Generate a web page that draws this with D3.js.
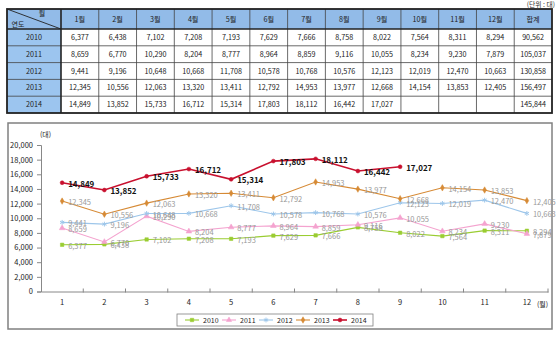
<!DOCTYPE html>
<html>
<head>
<meta charset="utf-8">
<script src="https://cdn.jsdelivr.net/npm/d3@7"></script>
<style>
  body { margin: 0; background: #fff; }
  svg text { font-family: "Noto Sans CJK KR", "Noto Sans", sans-serif; }
</style>
</head>
<body>
<div id="chart"></div>
<script>
// data
var months = ["1월", "2월", "3월", "4월", "5월", "6월", "7월", "8월", "9월", "10월", "11월", "12월"];
var monthTicks = [1, 2, 3, 4, 5, 6, 7, 8, 9, 10, 11, 12];
var years = ["2010", "2011", "2012", "2013", "2014"];
var s2010 = [6377, 6438, 7102, 7208, 7193, 7629, 7666, 8758, 8022, 7564, 8311, 8294];
var s2011 = [8659, 6770, 10290, 8204, 8777, 8964, 8859, 9116, 10055, 8234, 9230, 7879];
var s2012 = [9441, 9196, 10648, 10668, 11708, 10578, 10768, 10576, 12123, 12019, 12470, 10663];
var s2013 = [12345, 10556, 12063, 13320, 13411, 12792, 14953, 13977, 12668, 14154, 13853, 12405];
var s2014 = [14849, 13852, 15733, 16712, 15314, 17803, 18112, 16442, 17027];
var totals = [90562, 105037, 130858, 156497, 145844];
var yTicks = [0, 2000, 4000, 6000, 8000, 10000, 12000, 14000, 16000, 18000, 20000];

var seriesValues = [s2010, s2011, s2012, s2013, s2014];
var colors = ["#9ACD32", "#F4A3CF", "#9DC6EA", "#D68A35", "#C8102E"];
var symbols = [d3.symbolSquare, d3.symbolTriangle, d3.symbolAsterisk, d3.symbolDiamond, d3.symbolCircle];

var fmt = d3.format(",");

var width = 560, height = 339;
var svg = d3.select("#chart").append("svg")
  .attr("width", width)
  .attr("height", height);

// ---------- table ----------
var tLeft = 7, tTop = 9, firstW = 54, colW = (552 - 61) / 13, headH = 20, rowH = 16.8;
var cols = months.concat(["합계"]);
var table = svg.append("g");

// header cells
table.append("rect")
  .attr("x", tLeft).attr("y", tTop)
  .attr("width", 552 - tLeft).attr("height", headH)
  .attr("fill", "#92BBE8");
// year cells
table.append("rect")
  .attr("x", tLeft).attr("y", tTop + headH)
  .attr("width", firstW).attr("height", rowH * years.length)
  .attr("fill", "#9CC5EF");

// inner grid lines
var colX = function (i) { return tLeft + firstW + i * colW; };
for (var i = 1; i < cols.length; i++) {
  table.append("line")
    .attr("x1", colX(i)).attr("x2", colX(i))
    .attr("y1", tTop).attr("y2", tTop + headH + rowH * years.length)
    .attr("stroke", "#444").attr("stroke-width", 0.8);
}
for (var r = 1; r < years.length; r++) {
  table.append("line")
    .attr("x1", tLeft).attr("x2", 552)
    .attr("y1", tTop + headH + r * rowH).attr("y2", tTop + headH + r * rowH)
    .attr("stroke", "#444").attr("stroke-width", 0.8);
}
// thicker separators
table.append("line")
  .attr("x1", tLeft).attr("x2", 552)
  .attr("y1", tTop + headH).attr("y2", tTop + headH)
  .attr("stroke", "#222").attr("stroke-width", 1.6);
table.append("line")
  .attr("x1", colX(0)).attr("x2", colX(0))
  .attr("y1", tTop).attr("y2", tTop + headH + rowH * years.length)
  .attr("stroke", "#222").attr("stroke-width", 1.6);
table.append("rect")
  .attr("x", tLeft).attr("y", tTop)
  .attr("width", 552 - tLeft).attr("height", headH + rowH * years.length)
  .attr("fill", "none").attr("stroke", "#222").attr("stroke-width", 1.8);
// diagonal corner
table.append("line")
  .attr("x1", tLeft).attr("y1", tTop)
  .attr("x2", colX(0)).attr("y2", tTop + headH)
  .attr("stroke", "#222").attr("stroke-width", 0.9);
table.append("text").attr("x", 42).attr("y", 16)
  .attr("font-size", 7).attr("text-anchor", "middle").attr("fill", "#222").text("월");
table.append("text").attr("x", 18).attr("y", 27)
  .attr("font-size", 7).attr("text-anchor", "middle").attr("fill", "#222").text("연도");

// header labels
cols.forEach(function (c, i) {
  table.append("text")
    .attr("x", colX(i) + colW / 2).attr("y", tTop + headH / 2 + 2.5)
    .attr("font-size", 7.2).attr("text-anchor", "middle").attr("fill", "#222")
    .text(c);
});
// rows
years.forEach(function (y, r) {
  var cy = tTop + headH + r * rowH + rowH / 2 + 2.5;
  table.append("text")
    .attr("x", tLeft + firstW / 2).attr("y", cy)
    .attr("font-size", 7.2).attr("text-anchor", "middle").attr("fill", "#222")
    .text(y);
  var row = seriesValues[r];
  for (var m = 0; m < 12; m++) {
    if (row[m] === undefined) continue;
    table.append("text")
      .attr("x", colX(m) + colW / 2).attr("y", cy)
      .attr("font-size", 7.2).attr("text-anchor", "middle").attr("fill", "#222")
      .text(fmt(row[m]));
  }
  table.append("text")
    .attr("x", colX(12) + colW / 2).attr("y", cy)
    .attr("font-size", 7.2).attr("text-anchor", "middle").attr("fill", "#222")
    .text(fmt(totals[r]));
});
svg.append("text").attr("x", 555).attr("y", 7)
  .attr("font-size", 6.8).attr("text-anchor", "end").attr("fill", "#333")
  .text("(단위 : 대)");

// ---------- chart ----------
svg.append("rect")
  .attr("x", 8).attr("y", 123).attr("width", 544).attr("height", 206)
  .attr("fill", "#fff").attr("stroke", "#808080").attr("stroke-width", 1.5);

var x = d3.scaleBand().domain(monthTicks).range([41, 548]);
var y = d3.scaleLinear().domain([0, 20000]).range([291.5, 145]);

// y axis
var yAxis = svg.append("g")
  .attr("transform", "translate(41,0)")
  .call(d3.axisLeft(y).tickValues(yTicks).tickFormat(fmt).tickSize(4).tickPadding(4));
yAxis.select(".domain").attr("stroke", "#888");
yAxis.selectAll(".tick line").attr("stroke", "#888");
yAxis.selectAll("text").attr("font-size", 7.5).attr("fill", "#222")
  .attr("font-family", "\"Noto Sans CJK KR\", sans-serif");

// x axis
var xAxis = svg.append("g")
  .attr("transform", "translate(0," + y(0) + ")")
  .call(d3.axisBottom(x).tickSize(0).tickPadding(8));
xAxis.select(".domain").attr("stroke", "#888");
xAxis.selectAll("text").attr("font-size", 7.5).attr("fill", "#222")
  .attr("font-family", "\"Noto Sans CJK KR\", sans-serif");
// band boundary ticks
xAxis.selectAll(".bt")
  .data(monthTicks)
  .enter().append("line")
  .attr("x1", function (d) { return x(d) + x.bandwidth(); })
  .attr("x2", function (d) { return x(d) + x.bandwidth(); })
  .attr("y1", -3).attr("y2", 1)
  .attr("stroke", "#888");

svg.append("text").attr("x", 40).attr("y", 137)
  .attr("font-size", 7).attr("fill", "#222").text("(대)");
svg.append("text").attr("x", 537).attr("y", 307)
  .attr("font-size", 7).attr("fill", "#222").text("(월)");

var line = d3.line()
  .x(function (d, i) { return x(monthTicks[i]) + x.bandwidth() / 2; })
  .y(function (d) { return y(d); });

seriesValues.forEach(function (vals, k) {
  var g = svg.append("g");
  var bold = k === 4;
  g.append("path")
    .datum(vals)
    .attr("d", line)
    .attr("fill", "none")
    .attr("stroke", colors[k])
    .attr("stroke-width", bold ? 1.6 : 1.1);
  var sym = d3.symbol().type(symbols[k]).size(k === 2 ? 16 : (k === 1 ? 14 : 12));
  g.selectAll("path.pt")
    .data(vals)
    .enter().append("path")
    .attr("class", "pt")
    .attr("d", sym)
    .attr("transform", function (d, i) {
      return "translate(" + (x(monthTicks[i]) + x.bandwidth() / 2) + "," + y(d) + ")";
    })
    .attr("fill", k === 2 ? "none" : colors[k])
    .attr("stroke", colors[k])
    .attr("stroke-width", k === 2 ? 1 : 0.5);
  g.selectAll("text")
    .data(vals)
    .enter().append("text")
    .attr("x", function (d, i) { return x(monthTicks[i]) + x.bandwidth() / 2 + 6; })
    .attr("y", function (d) { return y(d) + 4; })
    .attr("font-size", bold ? 8 : 7.5)
    .attr("font-weight", bold ? "bold" : "normal")
    .attr("fill", bold ? "#111" : "#999")
    .text(function (d) { return fmt(d); });
});

// legend
svg.append("rect")
  .attr("x", 177).attr("y", 314).attr("width", 196).attr("height", 12)
  .attr("fill", "#fff").attr("stroke", "#808080").attr("stroke-width", 0.8);
years.forEach(function (yr, k) {
  var cx = 192 + k * 37;
  var lg = svg.append("g");
  lg.append("line")
    .attr("x1", cx - 7).attr("x2", cx + 7).attr("y1", 320).attr("y2", 320)
    .attr("stroke", colors[k]).attr("stroke-width", k === 4 ? 1.6 : 1.1);
  lg.append("path")
    .attr("d", d3.symbol().type(symbols[k]).size(k === 2 ? 16 : 12))
    .attr("transform", "translate(" + cx + ",320)")
    .attr("fill", k === 2 ? "none" : colors[k])
    .attr("stroke", colors[k]).attr("stroke-width", k === 2 ? 1 : 0.5);
  lg.append("text")
    .attr("x", cx + 11).attr("y", 322.6)
    .attr("font-size", 7).attr("fill", "#222").text(yr);
});
</script>
</body>
</html>
